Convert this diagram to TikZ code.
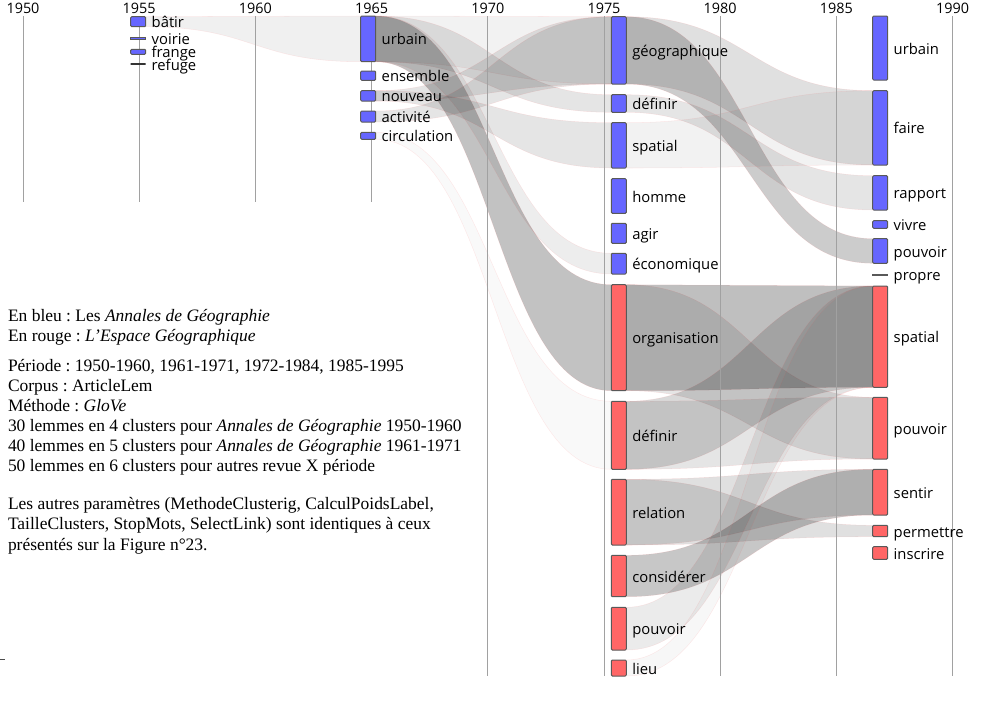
\documentclass[tikz,border=0pt]{standalone}
\usepackage{fontspec}
\setmainfont{Liberation Serif}
\newfontfamily\sansf{Open Sans}
\usetikzlibrary{calc, backgrounds}
\frenchspacing

\definecolor{bleu}{HTML}{6666FF}
\definecolor{rouge}{HTML}{FF6666}

% one cluster: name, left x, top y, bottom y, style, label
\newcommand{\clu}[6]{%
  \node[#5, minimum height={(#4-#3)*0.75pt}] (#1) at (#2,#3) {};
  \node[lbl] (l#1) at ([shift={(4.5pt,-4.5pt)}]#1.east) {#6};}

% one flow from a cluster to the next one
\newcommand{\flow}[3][0.1]{%
  \path[fl, fill opacity=#1] let \p1=(#2.north east), \p2=(#2.south east),
    \p3=(#3.north west), \p4=(#3.south west), \p5=($(\p1)!0.5!(\p3)$) in
    (\p1) .. controls (\x5,\y1) and (\x5,\y3) .. (\p3) -- (\p4)
    .. controls (\x5,\y4) and (\x5,\y2) .. (\p2) -- cycle;}

\begin{document}
\begin{tikzpicture}[x=0.75pt, y=-0.75pt,
    every node/.style={inner sep=0, outer sep=0},
    cluB/.style={draw=black!65, line width=0.75pt, fill=bleu, rounded corners=0.8pt, minimum width=11.25pt, anchor=north west},
    cluR/.style={cluB, fill=rouge},
    flat/.style={sharp corners},
    lbl/.style={font=\sansf\fontsize{11.1}{13}\selectfont, anchor=base west},
    yr/.style={font=\sansf\fontsize{10.8}{13}\selectfont, anchor=base},
    gline/.style={draw=black!37, line width=0.75pt},
    fl/.style={fill=black, draw=red!70, draw opacity=0.1, line width=0.4pt},
    txt/.style={font=\fontsize{13.1}{15}\selectfont, anchor=base west}
]
\useasboundingbox (0,0) rectangle (982,714);

% years and grid
\foreach \yr/\yb in {1950/201.5,1955/201.5,1960/201.5,1965/201.5,1970/676,1975/676,1980/676,1985/676,1990/676} {
  \node[yr] (y\yr) at ({23+(\yr-1950)*23.24},13.3) {\yr};
  \draw[gline] ({23+(\yr-1950)*23.24},16) -- ({23+(\yr-1950)*23.24},\yb);
}

% 1950-1960
\clu{batir}{130.7}{16.7}{26.7}{cluB}{bâtir}
\clu{voirie}{130.7}{37}{39}{cluB,flat}{voirie}
\clu{frange}{130.7}{49.3}{54.3}{cluB}{frange}
\clu{refuge}{130.7}{64}{64}{cluB,flat,draw=black!80,line width=1.1pt}{refuge}
% 1961-1971
\clu{urbainA}{360.7}{16}{61.7}{cluB}{urbain}
\clu{ensemble}{360.7}{71}{80.3}{cluB}{ensemble}
\clu{nouveau}{360.7}{90.7}{101}{cluB}{nouveau}
\clu{activite}{360.7}{111}{122}{cluB}{activité}
\clu{circulation}{360.7}{132.3}{139.3}{cluB}{circulation}
% 1972-1984
\clu{geo}{611.3}{16.7}{84}{cluB}{géographique}
\clu{definirB}{611.3}{94.7}{112.3}{cluB}{définir}
\clu{spatialB}{611.3}{122.7}{168}{cluB}{spatial}
\clu{homme}{611.3}{178.7}{213.3}{cluB}{homme}
\clu{agir}{611.3}{223.3}{243.3}{cluB}{agir}
\clu{economique}{611.3}{253.3}{274}{cluB}{économique}
\clu{organisation}{611.3}{284.7}{390.7}{cluR}{organisation}
\clu{definirR}{611.3}{401.3}{469.3}{cluR}{définir}
\clu{relation}{611.3}{479.3}{545}{cluR}{relation}
\clu{considerer}{611.3}{555.3}{596.7}{cluR}{considérer}
\clu{pouvoirR}{611.3}{607.3}{650}{cluR}{pouvoir}
\clu{lieu}{611.3}{660}{676}{cluR}{lieu}
% 1985-1995
\clu{urbainC}{872.7}{16}{80}{cluB}{urbain}
\clu{faire}{872.7}{90.7}{165}{cluB}{faire}
\clu{rapport}{872.7}{175.7}{210}{cluB}{rapport}
\clu{vivre}{872.7}{220.7}{228.3}{cluB}{vivre}
\clu{pouvoirC}{872.7}{238.7}{263.3}{cluB}{pouvoir}
\clu{propre}{872.7}{274}{275.3}{cluB,flat}{propre}
\clu{spatialC}{872.7}{286}{387.3}{cluR}{spatial}
\clu{pouvoirD}{872.7}{397.3}{459}{cluR}{pouvoir}
\clu{sentir}{872.7}{469.3}{515}{cluR}{sentir}
\clu{permettre}{872.7}{525.3}{536.7}{cluR}{permettre}
\clu{inscrire}{872.7}{546.7}{559.3}{cluR}{inscrire}

\begin{pgfonlayer}{background}
\flow[0.06]{batir}{urbainA}
\flow[0.05]{urbainA}{geo}
\flow[0.1]{urbainA}{definirB}
\flow[0.24]{urbainA}{organisation}
\flow[0.07]{urbainA}{economique}
\flow[0.1]{nouveau}{geo}
\flow[0.1]{activite}{geo}
\flow[0.1]{nouveau}{spatialB}
\flow[0.025]{circulation}{definirR}
\flow[0.12]{geo}{faire}
\flow[0.2]{geo}{pouvoirC}
\flow[0.1]{definirB}{rapport}
\flow[0.05]{spatialB}{faire}
\flow[0.25]{organisation}{spatialC}
\flow[0.1]{organisation}{pouvoirD}
\flow[0.15]{definirR}{spatialC}
\flow[0.1]{definirR}{pouvoirD}
\flow[0.12]{relation}{permettre}
\flow[0.12]{relation}{sentir}
\flow[0.22]{considerer}{sentir}
\flow[0.08]{pouvoirR}{spatialC}
\flow[0.03]{lieu}{spatialC}
\end{pgfonlayer}

% legend
\node[txt] (t1) at (8,321.5) {En bleu : Les \textit{Annales de Géographie}};
\node[txt] (t2) at (8,341.5) {En rouge : \textit{L'Espace Géographique}};
\node[txt] (t3) at (8,371) {Période : 1950-1960, 1961-1971, 1972-1984, 1985-1995};
\node[txt] (t4) at (8,391) {Corpus : ArticleLem};
\node[txt] (t5) at (8,411) {Méthode : \textit{GloVe}};
\node[txt] (t6) at (8,431) {30 lemmes en 4 clusters pour \textit{Annales de Géographie} 1950-1960};
\node[txt] (t7) at (8,451) {40 lemmes en 5 clusters pour \textit{Annales de Géographie} 1961-1971};
\node[txt] (t8) at (8,471) {50 lemmes en 6 clusters pour autres revue X période};
\node[txt] (t9) at (8,509.5) {Les autres paramètres (MethodeClusterig, CalculPoidsLabel,};
\node[txt] (t10) at (8,529.5) {TailleClusters, StopMots, SelectLink) sont identiques à ceux};
\node[txt] (t11) at (8,550) {présentés sur la Figure n°23.};
\draw[black!70, line width=0.75pt] (0,659.7) -- (4.5,659.7);
\end{tikzpicture}
\end{document}
